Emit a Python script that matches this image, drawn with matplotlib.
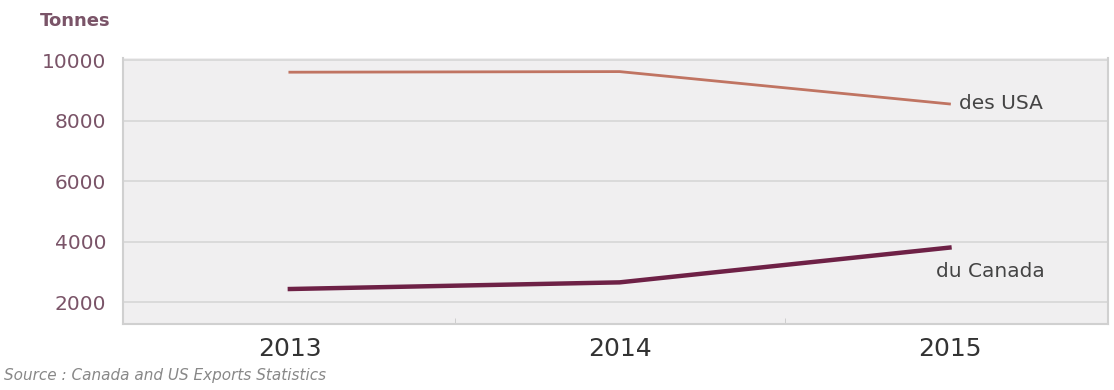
import matplotlib
matplotlib.use("Agg")
from matplotlib import pyplot as plt

years = ["2013", "2014", "2015"]
usa = [9600, 9620, 8550]
canada = [2430, 2650, 3800]
yticks = [2000, 4000, 6000, 8000, 10000]

plt.rcParams['font.family'] = ['DejaVu Sans']

fig = plt.figure(figsize=(11.14, 3.9), dpi=100)
ax = fig.add_axes([0.1104, 0.169, 0.884, 0.682])
ax.set_facecolor('#f0eff0')

x = range(len(years))
ax.plot(x, usa, color='#c07462', lw=2)
ax.plot(x, canada, color='#6e2146', lw=3.2)

ax.set_xlim(-0.506, 2.48)
ax.set_ylim(1270, 10066)
ax.set_yticks(yticks)
ax.set_yticklabels([str(v) for v in yticks], fontsize=14.5, color='#7a5468')
ax.set_xticks(list(x))
ax.set_xticklabels(years, fontsize=18, color='#333333')
ax.set_xticks([0.5, 1.5], minor=True)
ax.tick_params(axis='y', length=0, pad=12)
ax.tick_params(axis='x', which='major', length=0, pad=9)
ax.tick_params(axis='x', which='minor', length=4, color='#c8c8c8', direction='in')
ax.grid(axis='y', color='#d6d6d6', lw=1.2)
ax.set_axisbelow(True)
ax.spines['top'].set_visible(False)
for s in ['left', 'right', 'bottom']:
    ax.spines[s].set_color('#d0d0d0')
    ax.spines[s].set_linewidth(1.5)

ax.text(2.03, usa[-1], "des USA", fontsize=14.5, color='#444444', va='center', ha='left')
ax.text(1.96, canada[-1] - 800, "du Canada", fontsize=14.5, color='#444444', va='center', ha='left')

fig.text(0.036, 0.945, "Tonnes", fontsize=13, color='#7a5468', fontweight='bold', va='center')
fig.text(0.004, 0.038, "Source : Canada and US Exports Statistics", fontsize=11,
         color='#888888', style='italic', va='center')

fig.savefig("out.png", dpi=100)
